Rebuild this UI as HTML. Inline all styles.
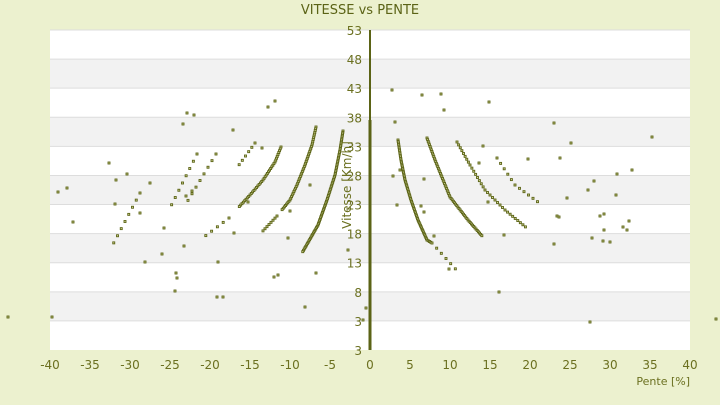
<!DOCTYPE html>
<html><head><meta charset="utf-8"><style>
body{margin:0;background:#ecf1cf;width:720px;height:400px;overflow:hidden;font-family:"Liberation Sans","DejaVu Sans",sans-serif}
</style></head><body>
<svg id="s" width="720" height="400" xmlns="http://www.w3.org/2000/svg" font-family="DejaVu Sans, Liberation Sans, sans-serif">
<rect x="0" y="0" width="720" height="400" fill="#ecf1cf"/>
<g id="bands"></g>
<g id="pts"></g>
<line x1="370" y1="30" x2="370" y2="350" stroke="#5b6316" stroke-width="2"/>
<g id="lab" fill="#6b7020" font-size="12"></g>
<text x="360" y="14" text-anchor="middle" fill="#5b6316" font-size="13">VITESSE vs PENTE</text>
<text x="690" y="385" text-anchor="end" fill="#6b7020" font-size="11">Pente [%]</text>
<text transform="translate(351,185) rotate(-90)" text-anchor="middle" fill="#6b7020" font-size="12">Vitesse [Km/h]</text>
</svg>
<script>
var NS="http://www.w3.org/2000/svg";
function el(p,t,a,txt){var e=document.createElementNS(NS,t);for(var k in a)e.setAttribute(k,a[k]);if(txt!==undefined)e.textContent=txt;document.getElementById(p).appendChild(e);}
for(var i=0;i<11;i++){var y=30+i*320/11;el("bands","rect",{x:50,y:y,width:640,height:320/11,fill:i%2?"#f2f2f2":"#ffffff"});el("bands","line",{x1:50,x2:690,y1:y,y2:y,stroke:"#dddddd","stroke-width":1});}
var yl=[53,48,43,38,33,28,23,18,13,8,3,3];
for(var i=0;i<12;i++)el("lab","text",{x:362,y:30+i*320/11+5,"text-anchor":"end"},yl[i]);
for(var v=-40;v<=40;v+=5)el("lab","text",{x:370+v*8,y:369,"text-anchor":"middle"},v);
function dot(x,y){el("pts","rect",{x:x-1,y:y-1,width:2,height:2,fill:"#d6da9a",stroke:"#5b6316","stroke-width":0.9});}
function arc(p,step){for(var i=0;i<p.length-1;i++){var a=p[i],b=p[i+1],d=Math.hypot(b[0]-a[0],b[1]-a[1]),n=Math.max(1,Math.round(d/step));for(var j=0;j<n;j++){dot(a[0]+(b[0]-a[0])*j/n,a[1]+(b[1]-a[1])*j/n);}}}
arc([[343,131],[340,150],[335,175],[327,200],[318,225],[302,253]],1.5);
arc([[316,127],[312,145],[305,165],[297,185],[290,200],[281,211]],1.8);
arc([[277,216],[261,233]],3);
arc([[281,147],[275,162],[263,180],[250,195],[238,208]],2);
arc([[255,143],[236,169]],5);
arc([[229,218],[200,240]],7);
arc([[216,154],[184,207]],8);
arc([[197,154],[168,212]],8);
arc([[140,193],[110,250]],8);
arc([[398,140],[401,160],[405,180],[411,200],[418,220],[427,240],[432,243]],1.5);
arc([[432,243],[460,274]],7);
arc([[427,138],[435,160],[450,197],[468,220],[483,237]],1.8);
arc([[457,142],[470,165],[485,190],[505,210],[528,229]],3.5);
arc([[497,158],[515,185],[542,205]],6);
el("pts","rect",{x:368.5,y:120,width:3,height:230,fill:"#5b6316"});
var sc=[[8,317],[52,317],[716,319],[58,192],[67,188],[73,222],[109,163],[116,180],[115,204],[127,174],[140,213],[150,183],[145,262],[164,228],[162,254],[176,273],[175,291],[177,278],[184,246],[183,124],[187,113],[194,115],[186,196],[192,191],[217,297],[223,297],[218,262],[234,233],[233,130],[248,202],[275,101],[278,275],[274,277],[288,238],[290,211],[305,307],[268,107],[262,148],[316,273],[310,185],[348,250],[363,320],[366,308],[392,90],[393,176],[397,205],[400,170],[395,122],[441,94],[444,110],[422,95],[424,179],[424,212],[421,206],[434,236],[449,269],[479,163],[489,102],[483,146],[499,292],[488,202],[504,235],[528,159],[554,123],[560,158],[554,244],[557,216],[567,198],[559,217],[571,143],[588,190],[594,181],[590,322],[592,238],[600,216],[604,214],[603,241],[604,230],[610,242],[616,195],[617,174],[623,227],[627,230],[629,221],[632,170],[652,137]];
sc.forEach(function(p){dot(p[0],p[1]);});
</script>
</body></html>
